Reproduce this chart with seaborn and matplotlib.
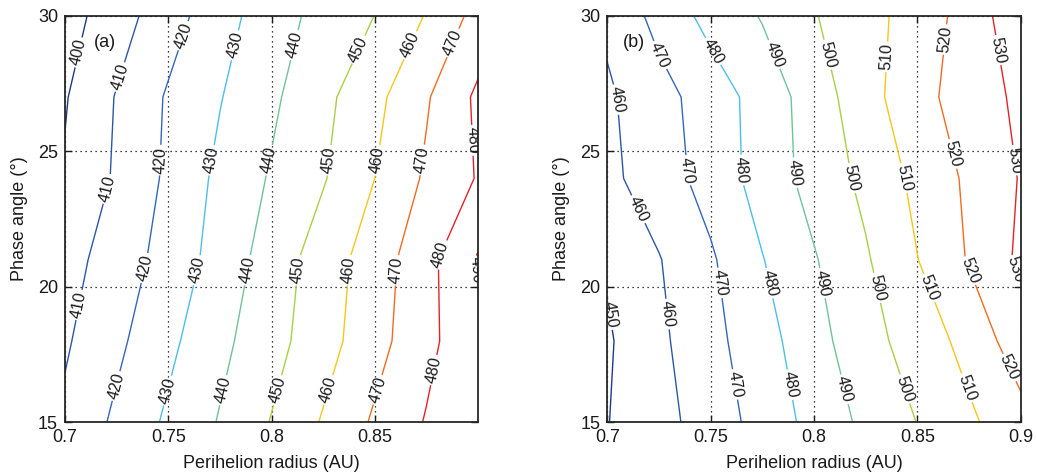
import numpy as np
import matplotlib
matplotlib.use("Agg")
import matplotlib.pyplot as plt
import seaborn as sns

# Sampling grid: perihelion radius (AU) and phase angle (deg)
perihelion = [0.700, 0.725, 0.750, 0.775, 0.800, 0.825, 0.850, 0.875, 0.900]
phase = [15, 18, 21, 24, 27, 30]

# Panel (a): one row of values per phase angle
a_15 = [411.9, 421.9, 431.7, 440.7, 450.5, 460.9, 471.4, 480.7, 488.0]
a_18 = [408.8, 417.9, 427.7, 437.5, 446.4, 456.0, 466.4, 477.2, 488.1]
a_21 = [406.2, 414.7, 423.8, 434.0, 444.5, 454.9, 464.9, 476.7, 491.0]
a_24 = [401.0, 411.3, 421.8, 432.3, 441.0, 449.2, 460.0, 471.5, 480.7]
a_27 = [399.3, 410.6, 421.1, 429.5, 438.2, 447.4, 457.2, 469.0, 481.9]
a_30 = [395.8, 405.6, 415.7, 426.0, 435.4, 443.3, 450.1, 460.6, 473.4]

# Panel (b): one row of values per phase angle
b_15 = [449.7, 456.6, 464.6, 473.7, 483.2, 492.3, 500.2, 508.3, 516.5]
b_18 = [448.8, 458.0, 467.0, 476.0, 486.4, 496.3, 504.5, 513.2, 525.7]
b_21 = [451.0, 459.5, 468.7, 479.6, 489.2, 498.9, 509.8, 520.8, 531.9]
b_24 = [457.6, 465.2, 473.8, 484.1, 493.6, 502.4, 512.5, 521.8, 530.6]
b_27 = [458.5, 466.4, 474.8, 484.1, 494.7, 506.2, 516.6, 524.8, 532.0]
b_30 = [462.0, 473.2, 483.3, 490.7, 499.4, 506.6, 514.1, 524.2, 537.0]

levels_a = [400, 410, 420, 430, 440, 450, 460, 470, 480, 490]
levels_b = [450, 460, 470, 480, 490, 500, 510, 520, 530]

colors_a = ["#1d3a85", "#2b57a6", "#3466bb", "#4cbfe8", "#6fc39b",
            "#a9cf46", "#f6c61a", "#f06b22", "#e3222b", "#d8141f"]
colors_b = ["#1d3a85", "#2b57a6", "#3466bb", "#4cbfe8", "#6fc39b",
            "#a9cf46", "#f6c61a", "#f06b22", "#e3222b"]

# Where each contour label sits (data coordinates)
label_pos_a = [
    (0.7058, 28.66), (0.7266, 27.74), (0.7189, 23.64), (0.7068, 19.33),
    (0.7562, 29.29), (0.7470, 24.67), (0.7387, 20.69), (0.7232, 16.37),
    (0.7818, 28.92), (0.7707, 24.67), (0.7639, 20.61), (0.7494, 16.18),
    (0.8108, 28.92), (0.7987, 24.67), (0.7886, 20.61), (0.7770, 16.18),
    (0.8404, 28.81), (0.8278, 24.67), (0.8128, 20.61), (0.8031, 16.18),
    (0.8670, 28.92), (0.8510, 24.67), (0.8380, 20.61), (0.8283, 16.18),
    (0.8902, 28.92), (0.8742, 24.67), (0.8612, 20.61), (0.8525, 16.18),
    (0.8960, 25.40), (0.8815, 21.20), (0.8790, 16.92), (0.8985, 20.60),
]
label_pos_b = [
    (0.7255, 28.55), (0.7481, 28.55), (0.7802, 28.55), (0.8058, 28.55),
    (0.8354, 28.48), (0.8659, 29.10), (0.8867, 28.70), (0.7028, 26.90),
    (0.7400, 24.30), (0.7628, 24.30), (0.7889, 24.20), (0.8175, 24.00),
    (0.8427, 24.00), (0.8645, 24.85), (0.8969, 24.67), (0.7134, 22.80),
    (0.7531, 20.13), (0.7784, 20.13), (0.8036, 20.13), (0.8300, 19.95),
    (0.8557, 19.95), (0.8756, 20.60), (0.8964, 20.60), (0.7028, 18.99),
    (0.7289, 18.99), (0.7628, 16.41), (0.7904, 16.41), (0.8150, 16.22),
    (0.8450, 16.26), (0.8735, 16.26), (0.8959, 17.07),
]

sns.set_theme(style="ticks")
plt.rcParams["font.family"] = ["Liberation Sans", "DejaVu Sans"]
plt.rcParams["axes.edgecolor"] = "#262626"
plt.rcParams["axes.linewidth"] = 1.3

fig = plt.figure(figsize=(10.37, 4.75), dpi=100)
ax_a = fig.add_axes([0.0627, 0.1109, 0.3983, 0.856])
ax_b = fig.add_axes([0.5856, 0.1109, 0.3987, 0.856])

X, Y = np.meshgrid(perihelion, phase)
Z_a = np.array([a_15, a_18, a_21, a_24, a_27, a_30])
Z_b = np.array([b_15, b_18, b_21, b_24, b_27, b_30])


def draw_panel(ax, Z, levels, colors, label_pos, tag, tag_x, xticks):
    ax.grid(True, linestyle=(0, (1, 3)), color="black", linewidth=0.9)
    cs = ax.contour(X, Y, Z, levels=levels, colors=colors, linewidths=1.0)
    ax.clabel(cs, levels, inline=True, inline_spacing=2, fontsize=11.5,
              fmt="%d", colors="#1a1a1a", manual=label_pos)
    ax.set_xlim(0.7, 0.9)
    ax.set_ylim(15, 30)
    ax.set_xticks(xticks)
    ax.set_xticklabels([f"{t:g}" for t in xticks])
    ax.set_yticks([15, 20, 25, 30])
    ax.tick_params(direction="in", top=True, right=True, length=5,
                   width=1.0, labelsize=13, pad=5, colors="#1a1a1a")
    ax.set_xlabel("Perihelion radius (AU)", fontsize=13, color="#1a1a1a")
    ax.set_ylabel("Phase angle (°)", fontsize=13, color="#1a1a1a")
    ax.xaxis.set_label_coords(0.5, -0.08)
    ax.yaxis.set_label_coords(-0.09, 0.5)
    ax.text(tag_x, 0.935, tag, transform=ax.transAxes, fontsize=13,
            ha="center", va="center", color="#1a1a1a")
    for s in ax.spines.values():
        s.set_visible(True)


draw_panel(ax_a, Z_a, levels_a, colors_a, label_pos_a, "(a)", 0.097,
           [0.7, 0.75, 0.8, 0.85])
draw_panel(ax_b, Z_b, levels_b, colors_b, label_pos_b, "(b)", 0.065,
           [0.7, 0.75, 0.8, 0.85, 0.9])

fig.savefig("out.png", dpi=100)
